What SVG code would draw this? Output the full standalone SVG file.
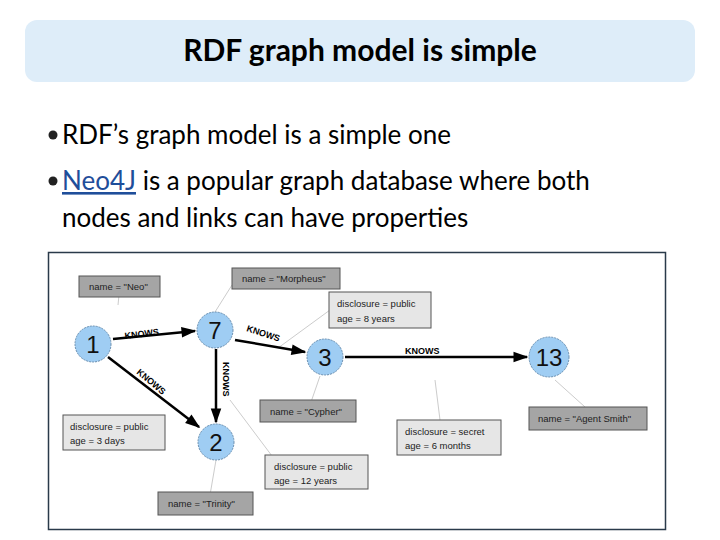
<svg xmlns="http://www.w3.org/2000/svg" width="720" height="540" viewBox="0 0 720 540">
<style>
.t{font-family:Lato,"Open Sans",sans-serif;font-size:26px;fill:#000}
.b{fill:#a5a5a5;stroke:#555;stroke-width:1}
.b2{fill:#e6e6e6;stroke:#555;stroke-width:1}
.bt{font-family:"Liberation Sans",sans-serif;font-size:9.5px;fill:#222}
.n{fill:#9fcdf3;stroke:#6a8fb0;stroke-width:1;stroke-dasharray:2 1}
.nt{font-family:"Liberation Sans",sans-serif;font-size:24px;fill:#111;text-anchor:middle}
.e{stroke:#000;stroke-width:2.5;fill:none;marker-end:url(#a)}
.l{stroke:#ccc;stroke-width:1;fill:none}
.k{font-family:"Liberation Sans",sans-serif;font-size:9px;font-weight:bold;fill:#000}
</style>
<defs><marker id="a" viewBox="0 0 10 10" refX="9" refY="5" markerWidth="7" markerHeight="6" orient="auto" markerUnits="strokeWidth"><path d="M0,1.5 L10,5 L0,8.5 z" fill="#000"/></marker></defs>
<rect x="0" y="0" width="720" height="540" fill="#fff"/>
<rect x="25" y="20" width="670" height="62" rx="12" fill="#deedf9"/>
<text x="360" y="61" text-anchor="middle" style="font-family:Lato,'Open Sans',sans-serif;font-size:30px;font-weight:bold">RDF graph model is simple</text>
<circle cx="53" cy="135" r="4.5" fill="#222"/>
<text class="t" x="62" y="144">RDF’s graph model is a simple one</text>
<circle cx="53" cy="181" r="4.5" fill="#222"/>
<text class="t" x="62" y="190"><tspan fill="#1f4e9a" text-decoration="underline">Neo4J</tspan> is a popular graph database where both</text>
<text class="t" x="62" y="227">nodes and links can have properties</text>
<rect x="48.5" y="252.5" width="617" height="277" fill="#fff" stroke="#2a3a4a" stroke-width="1.5"/>
<g id="leaders">
<path class="l" d="M118,305 L120,285"/><path class="l" d="M215,312 L232,285"/><path class="l" d="M278,348 L330,310"/>
<path class="l" d="M320,376 L310,405"/><path class="l" d="M120,445 L148,420"/><path class="l" d="M230,400 L275,460"/>
<path class="l" d="M216,460 L210,495"/><path class="l" d="M435,380 L440,420"/><path class="l" d="M555,380 L585,407"/>
</g>
<g id="connectors">
<path class="e" d="M113,339 L195,331"/>
<path class="e" d="M235,340 L305,352"/>
<path class="e" d="M345,357 L527,357"/>
<path class="e" d="M216,349 L216,422"/>
<path class="e" d="M108,357 L199,427"/>
<text class="k" transform="translate(125,339) rotate(-7)">KNOWS</text>
<text class="k" transform="translate(246,331) rotate(18)">KNOWS</text>
<text class="k" x="405" y="354">KNOWS</text>
<text class="k" transform="translate(223,362) rotate(90)">KNOWS</text>
<text class="k" transform="translate(136,373) rotate(40)">KNOWS</text>
</g>
<g id="n1"><circle class="n" cx="93" cy="344" r="18"/><text class="nt" x="93" y="353">1</text></g>
<g id="n7"><circle class="n" cx="215" cy="330" r="18"/><text class="nt" x="215" y="339">7</text></g>
<g id="n3"><circle class="n" cx="325" cy="357" r="18"/><text class="nt" x="325" y="366">3</text></g>
<g id="n13"><circle class="n" cx="549" cy="357" r="20"/><text class="nt" x="549" y="366">13</text></g>
<g id="n2"><circle class="n" cx="216" cy="442" r="18"/><text class="nt" x="216" y="451">2</text></g>
<g id="p1"><rect class="b" x="79" y="276" width="81" height="21"/><text class="bt" x="89" y="290">name = "Neo"</text></g>
<g id="p2"><rect class="b" x="232" y="268" width="108" height="21"/><text class="bt" x="242" y="282">name = "Morpheus"</text></g>
<g id="p3"><rect class="b2" x="329" y="292" width="102" height="36"/><text class="bt" x="337" y="307">disclosure = public</text><text class="bt" x="337" y="322">age = 8 years</text></g>
<g id="p4"><rect class="b" x="260" y="400" width="96" height="22"/><text class="bt" x="270" y="415">name = "Cypher"</text></g>
<g id="p5"><rect class="b2" x="63" y="415" width="102" height="35"/><text class="bt" x="70" y="430">disclosure = public</text><text class="bt" x="70" y="444">age = 3 days</text></g>
<g id="p6"><rect class="b2" x="265" y="455" width="103" height="34"/><text class="bt" x="274" y="470">disclosure = public</text><text class="bt" x="274" y="484">age = 12 years</text></g>
<g id="p7"><rect class="b" x="158" y="492" width="95" height="23"/><text class="bt" x="168" y="507">name = "Trinity"</text></g>
<g id="p8"><rect class="b2" x="397" y="420" width="104" height="35"/><text class="bt" x="405" y="435">disclosure = secret</text><text class="bt" x="405" y="449">age = 6 months</text></g>
<g id="p9"><rect class="b" x="529" y="407" width="118" height="23"/><text class="bt" x="538" y="422">name = "Agent Smith"</text></g>
</svg>
